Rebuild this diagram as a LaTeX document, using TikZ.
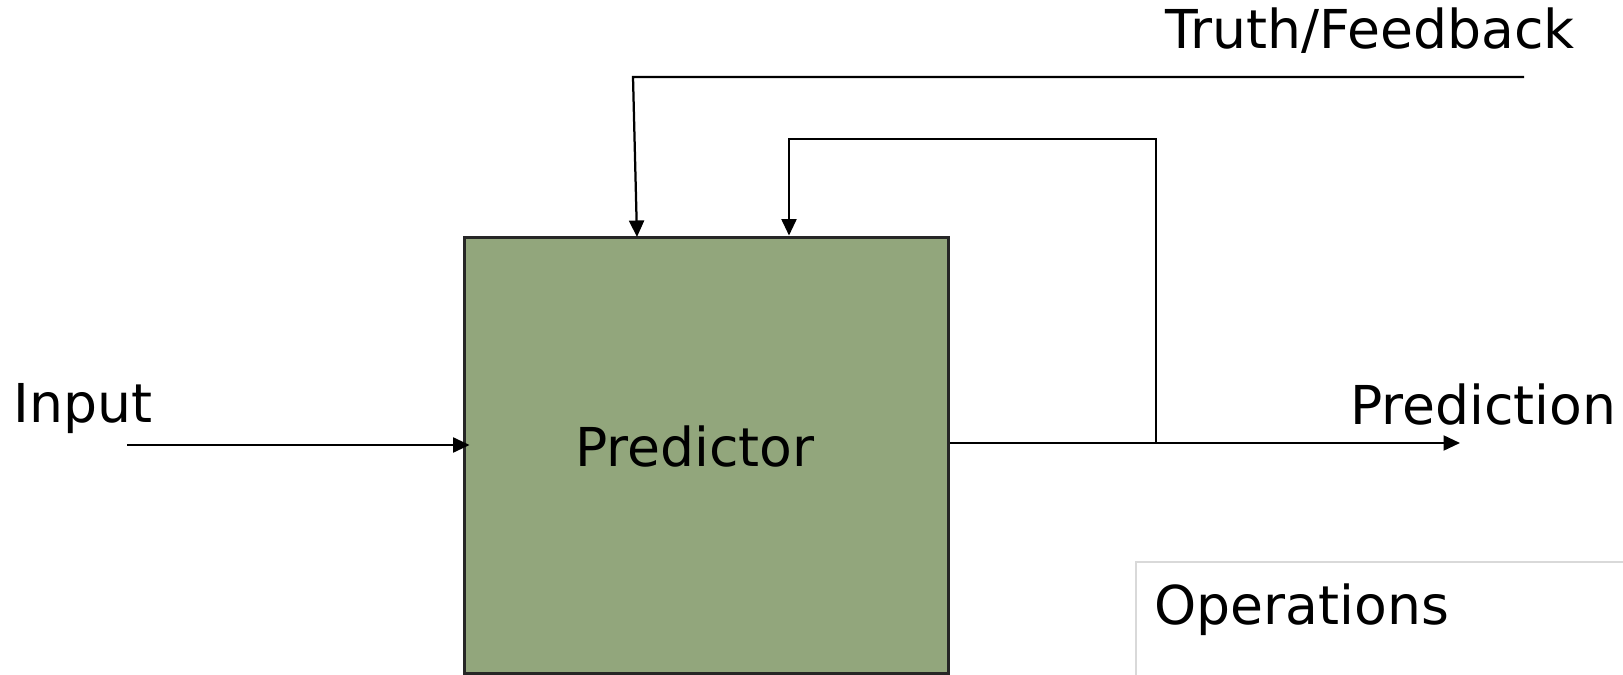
\documentclass[tikz,border=0pt]{standalone}
\usepackage{fontspec}
\setmainfont{DejaVu Sans}
\usepackage{xcolor}
\usepackage{tikz}
\usetikzlibrary{positioning}
\usetikzlibrary{arrows.meta}
\definecolor{predgreen}{RGB}{146,166,124}
\definecolor{opsgray}{RGB}{217,217,217}

\begin{document}
\begin{tikzpicture}[x=0.02cm,y=-0.02cm,font=\fontsize{30.5}{36}\selectfont,
    flow/.style={-{Triangle[length=0.33cm,width=0.3cm]},line width=0.045cm},
    lbl/.style={anchor=base west,inner sep=0pt}]
    \useasboundingbox (0,0) rectangle (1623,675);
    \clip (0,0) rectangle (1623,675);
    \node[draw=black!85,line width=0.06cm,fill=predgreen,minimum width=9.7cm,minimum height=8.74cm] (P) at (706.5,455.5) {};
    \node[anchor=base,inner sep=0pt] (Ptext) at (695,466) {Predictor};
    \node[draw=opsgray,line width=0.045cm,anchor=north west,minimum width=12cm,minimum height=4cm] (O) at (1135,561) {};
    \node[lbl] (Otext) at (1154,624) {Operations};
    \node[lbl] (I) at (13,422) {Input};
    \node[lbl] (R) at (1350,425) {Prediction};
    \node[lbl] (T) at (1165,49) {Truth/Feedback};
    \coordinate (in) at (127,445);
    \coordinate (out) at (1460,443);
    \coordinate (fork) at (1156,443);
    \coordinate (loop) at (789,139);
    \coordinate (truth) at (1524,77);
    \coordinate (bend) at (633,77);
    \coordinate (drop) at (637,237);
    \draw[flow,shorten >=-0.14cm] (in) -- (P.west |- in);
    \draw[flow] (P.east |- out) -- (out);
    \draw[flow] (fork) |- (loop) -- (P.north -| loop);
    \draw[flow] (truth) -- (bend) -- (drop);
\end{tikzpicture}
\end{document}
